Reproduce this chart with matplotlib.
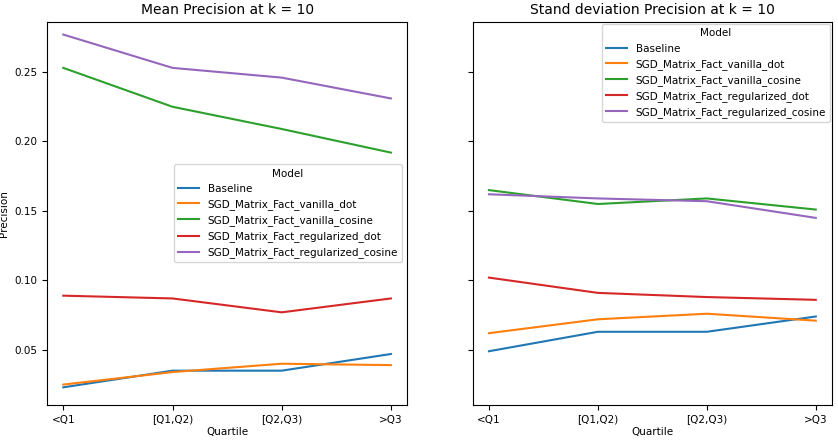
import matplotlib
matplotlib.use("Agg")
import matplotlib.pyplot as plt

quartiles = ["<Q1", "[Q1,Q2)", "[Q2,Q3)", ">Q3"]
models = ["Baseline", "SGD_Matrix_Fact_vanilla_dot", "SGD_Matrix_Fact_vanilla_cosine",
          "SGD_Matrix_Fact_regularized_dot", "SGD_Matrix_Fact_regularized_cosine"]
mean_baseline = [0.023, 0.035, 0.035, 0.047]
mean_vdot = [0.025, 0.034, 0.040, 0.039]
mean_vcos = [0.253, 0.225, 0.209, 0.192]
mean_rdot = [0.089, 0.087, 0.077, 0.087]
mean_rcos = [0.277, 0.253, 0.246, 0.231]
std_baseline = [0.049, 0.063, 0.063, 0.074]
std_vdot = [0.062, 0.072, 0.076, 0.071]
std_vcos = [0.165, 0.155, 0.159, 0.151]
std_rdot = [0.102, 0.091, 0.088, 0.086]
std_rcos = [0.162, 0.159, 0.157, 0.145]

plt.rcParams['font.size'] = 7.5
fig = plt.figure(figsize=(8.38, 4.41), dpi=100)
ax1 = fig.add_axes([0.056, 0.082, 0.430, 0.868])
ax2 = fig.add_axes([0.564, 0.082, 0.429, 0.868], sharey=ax1)
colors = ["#1f77b4", "#ff7f0e", "#2ca02c", "#d62728", "#9467bd"]
for ax, series, title in [
    (ax1, [mean_baseline, mean_vdot, mean_vcos, mean_rdot, mean_rcos], "Mean Precision at k = 10"),
    (ax2, [std_baseline, std_vdot, std_vcos, std_rdot, std_rcos], "Stand deviation Precision at k = 10")]:
    for m, s, c in zip(models, series, colors):
        ax.plot(quartiles, s, color=c, label=m, lw=1.5)
    ax.set_title(title, fontsize=10)
    ax.set_xlabel("Quartile", labelpad=2)
ax1.set_ylabel("Precision")
ax1.set_ylim(0.0104, 0.286)
ax1.set_yticks([0.05, 0.10, 0.15, 0.20, 0.25])
plt.setp(ax2.get_yticklabels(), visible=False)
ax1.legend(title="Model", loc="center right", fontsize=7.5, title_fontsize=7.5)
ax2.legend(title="Model", loc="upper right", fontsize=7.5, title_fontsize=7.5, borderaxespad=0.2)
fig.savefig("out.png", dpi=100)
